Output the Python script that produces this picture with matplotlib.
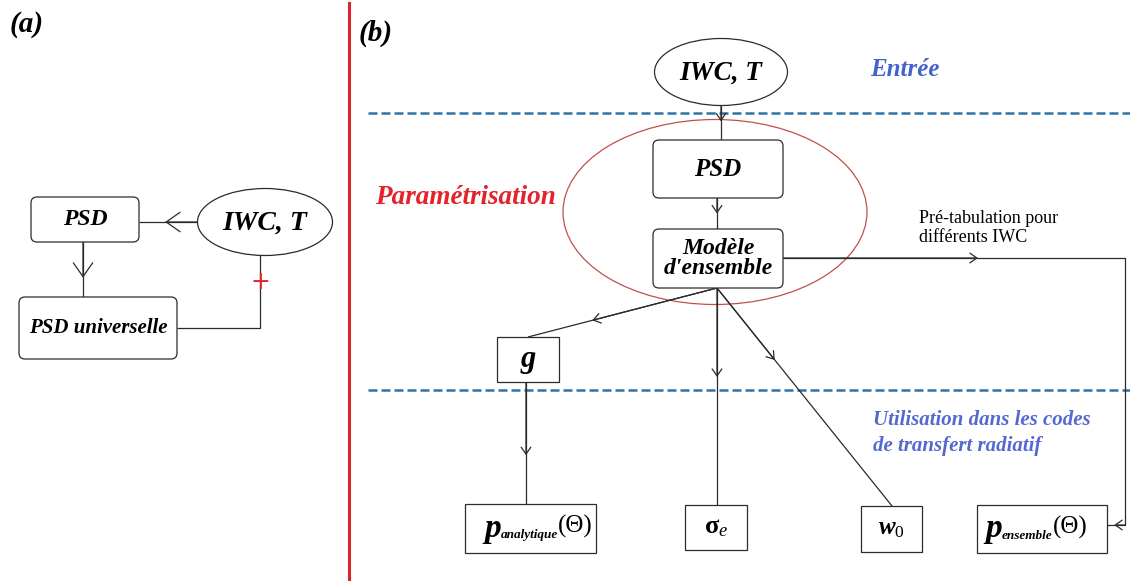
import matplotlib.pyplot as plt
from matplotlib.patches import Ellipse, FancyBboxPatch, Rectangle

# textes du schéma
panel_labels = ["(a)", "(b)"]
input_label = "IWC, T"
boxes_a = ["PSD", "PSD universelle"]
boxes_b = ["PSD", "Modèle\nd'ensemble"]
param_labels = ["g", r"$\mathbf{\sigma}_{\mathit{e}}$", r"$\mathbfit{w}_{\mathit{0}}$"]
phase_subscripts = ["analytique", "ensemble"]
phase_arg = "(Θ)"
zone_labels = ["Entrée", "Paramétrisation", "Utilisation dans les codes\nde transfert radiatif"]
note_label = "Pré-tabulation pour\ndifférents IWC"

SERIF = "Liberation Serif"
LINE = "#2b2b2b"
DASH = "#2f74a8"


def box(ax, x0, y0, x1, y1, text, size, rounded=False, **kw):
    if rounded:
        p = FancyBboxPatch((x0, y0), x1 - x0, y1 - y0,
                           boxstyle="round,pad=0,rounding_size=6",
                           fc="white", ec=LINE, lw=0.9, zorder=3)
    else:
        p = Rectangle((x0, y0), x1 - x0, y1 - y0, fc="white", ec=LINE, lw=0.9, zorder=3)
    ax.add_patch(p)
    if text:
        ax.text((x0 + x1) / 2, (y0 + y1) / 2, text, ha="center", va="center",
                fontsize=size, family=SERIF, weight="bold", style="italic", zorder=4, **kw)


def phase_label(ax, x, y, sub):
    # p_xxx(Θ) en trois morceaux, comme dans l'original
    t_p = ax.text(x, y, "p", fontsize=24, family=SERIF, weight="bold", style="italic",
                  va="center", ha="left", zorder=4)
    t_s = ax.annotate(sub, xy=(1, 0), xycoords=t_p, xytext=(0, 2), textcoords="offset points",
                      fontsize=9.5, family=SERIF, weight="bold", style="italic",
                      va="bottom", ha="left", zorder=4)
    ax.annotate(phase_arg, xy=(1, 0.5), xycoords=(t_s, t_p), xytext=(0, 1),
                textcoords="offset points", fontsize=18, family=SERIF,
                va="center", ha="left", zorder=4)


def oval(ax, cx, cy, w, h, text, size):
    ax.add_patch(Ellipse((cx, cy), w, h, fc="white", ec=LINE, lw=0.9, zorder=3))
    ax.text(cx, cy + 1, text, ha="center", va="center", fontsize=size,
            family=SERIF, weight="bold", style="italic", zorder=4)


def wire(ax, pts):
    xs, ys = zip(*pts)
    ax.plot(xs, ys, color=LINE, lw=0.9, zorder=2, solid_capstyle="butt")


def chevron(ax, p0, p1, frac, scale=10):
    # pointe ouverte au milieu du trait
    xm = p0[0] + frac * (p1[0] - p0[0])
    ym = p0[1] + frac * (p1[1] - p0[1])
    ax.annotate("", xy=(xm, ym), xytext=p0,
                arrowprops=dict(arrowstyle="->,head_length=0.5,head_width=0.35",
                                color=LINE, lw=0.9, shrinkA=0, shrinkB=0,
                                mutation_scale=scale), zorder=2)


def main():
    plt.rcParams["mathtext.fontset"] = "custom"
    plt.rcParams["mathtext.rm"] = SERIF
    plt.rcParams["mathtext.it"] = SERIF + ":italic"
    plt.rcParams["mathtext.bf"] = SERIF + ":bold"
    plt.rcParams["mathtext.bfit"] = SERIF + ":bold:italic"

    fig = plt.figure(figsize=(11.3, 5.81), dpi=100)
    ax = fig.add_axes([0, 0, 1, 1])
    ax.set_xlim(0, 1130)
    ax.set_ylim(581, 0)
    ax.axis("off")

    # étiquettes (a), (b) et séparation
    ax.text(10, 25, panel_labels[0], fontsize=21, family=SERIF, weight="bold",
            style="italic", va="center")
    ax.text(359, 33, panel_labels[1], fontsize=21, family=SERIF, weight="bold",
            style="italic", va="center")
    ax.plot([349, 349], [3, 581], color="#d9262b", lw=2.2)

    # ---- panneau (a) ----
    oval(ax, 265, 222, 135, 67, input_label, 20)
    box(ax, 31, 197, 139, 242, boxes_a[0], 17, rounded=True)
    box(ax, 19, 297, 177, 359, boxes_a[1], 15, rounded=True)
    wire(ax, [(197, 222), (139, 222)])
    chevron(ax, (197, 222), (139, 222), 0.55, scale=20)
    wire(ax, [(83, 242), (83, 297)])
    chevron(ax, (83, 242), (83, 297), 0.65, scale=20)
    wire(ax, [(177, 328), (260, 328), (260, 255)])
    ax.text(260, 282, "+", color="#e0202a", fontsize=17, ha="center", va="center",
            family="DejaVu Sans", zorder=4)

    # ---- panneau (b) ----
    for y in (113, 390):
        ax.plot([368, 1130], [y, y], color=DASH, lw=1.8, linestyle=(0, (3.6, 1.6)), zorder=1)

    ax.add_patch(Ellipse((715, 212), 304, 185, fc="none", ec="#c0504d", lw=0.9, zorder=1))

    oval(ax, 721, 72, 133, 67, input_label, 19.5)
    box(ax, 653, 140, 783, 198, boxes_b[0], 18, rounded=True)
    box(ax, 653, 229, 783, 288, boxes_b[1], 17, rounded=True, linespacing=0.95)

    wire(ax, [(721, 106), (721, 140)])
    chevron(ax, (721, 106), (721, 140), 0.45)
    wire(ax, [(717, 198), (717, 229)])
    chevron(ax, (717, 198), (717, 229), 0.5)

    # pré-tabulation vers p_ensemble
    wire(ax, [(783, 258), (1125, 258), (1125, 525), (1107, 525)])
    chevron(ax, (783, 258), (1125, 258), 0.57)
    chevron(ax, (1125, 525), (1107, 525), 0.6)
    ax.text(919, 228, note_label, fontsize=13, family=SERIF, va="center", linespacing=1.15)

    # sorties du modèle d'ensemble
    top = (717, 288)
    wire(ax, [top, (528, 337)])
    chevron(ax, top, (528, 337), 0.66)
    wire(ax, [top, (717, 505)])
    chevron(ax, top, (717, 505), 0.41)
    wire(ax, [top, (892, 506)])
    chevron(ax, top, (892, 506), 0.33)

    box(ax, 497, 337, 559, 382, param_labels[0], 22)
    wire(ax, [(526, 382), (526, 504)])
    chevron(ax, (526, 382), (526, 504), 0.6)

    box(ax, 465, 504, 596, 553, "", 0)
    phase_label(ax, 484, 528, phase_subscripts[0])
    box(ax, 685, 505, 747, 550, param_labels[1], 19)
    box(ax, 861, 506, 922, 552, param_labels[2], 18)
    box(ax, 977, 505, 1107, 553, "", 0)
    phase_label(ax, 985, 529, phase_subscripts[1])

    # zones
    ax.text(870, 70, zone_labels[0], color="#4462cc", fontsize=18, family=SERIF,
            weight="bold", style="italic", va="center")
    ax.text(375, 197, zone_labels[1], color="#e3232c", fontsize=19.5, family=SERIF,
            weight="bold", style="italic", va="center")
    ax.text(873, 433, zone_labels[2], color="#5468d0", fontsize=15, family=SERIF,
            weight="bold", style="italic", va="center", linespacing=1.45)

    fig.savefig("out.png", dpi=100, facecolor="white")


if __name__ == "__main__":
    main()
